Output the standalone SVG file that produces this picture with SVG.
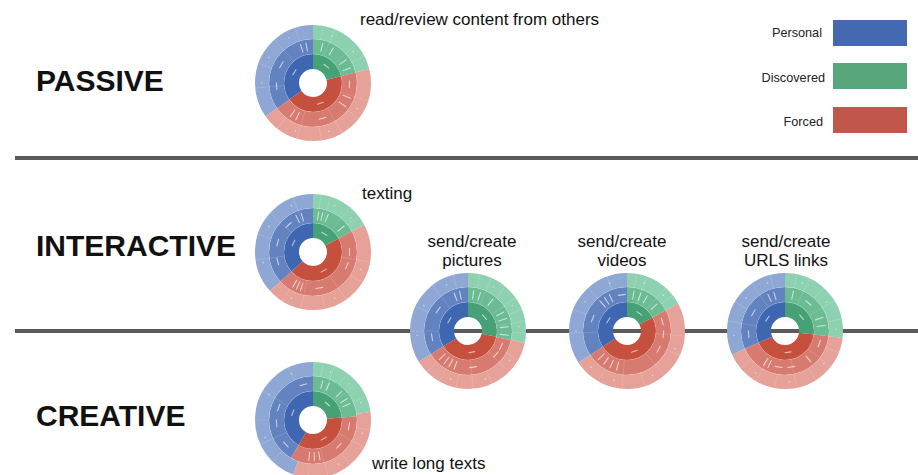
<svg xmlns="http://www.w3.org/2000/svg" xmlns:xlink="http://www.w3.org/1999/xlink" width="918" height="475" viewBox="0 0 918 475">
  <style>
    .title { font-family: "Liberation Sans", Arial, sans-serif; font-weight: bold; font-size: 30px; fill: #111; }
    .label { font-family: "Liberation Sans", Arial, sans-serif; font-size: 17px; fill: #111; }
    .legend { font-family: "Liberation Sans", Arial, sans-serif; font-size: 12.7px; fill: #222; text-anchor: end; }
    .mid { text-anchor: middle; }
    .divider { stroke: #5b5b5b; stroke-width: 4; }
    .k { fill: none; }
    .w1 { stroke-width: 15; }
    .w2 { stroke-width: 15; }
    .w3 { stroke-width: 14; }
    .b1 { stroke: #3f66b0; } .b2 { stroke: #6282c0; } .b3 { stroke: #8ea7d4; }
    .g1 { stroke: #46a276; } .g2 { stroke: #6bbb93; } .g3 { stroke: #8ed1b0; }
    .r1 { stroke: #c6503e; } .r2 { stroke: #d77a6f; } .r3 { stroke: #e6a199; }
    .seams { stroke: #fff; stroke-opacity: 0.17; stroke-width: 0.8; fill: none; }
    .marks { stroke: #fff; stroke-opacity: 0.62; stroke-width: 1.1; stroke-linecap: round; fill: #fff; fill-opacity: 0.5; }
  </style>
  <defs>
    <!-- ring arcs are circles drawn with a 360-unit dash pattern -->
    <line id="sp" x1="0" y1="-29" x2="0" y2="-58"/>
    <line id="so" x1="0" y1="-44" x2="0" y2="-58"/>
    <line id="tI" x1="-3" y1="-21.5" x2="3" y2="-21.5"/>
    <line id="rM" x1="0" y1="-32.5" x2="0" y2="-40.5"/>
    <line id="tM" x1="-3.5" y1="-36.5" x2="3.5" y2="-36.5"/>
    <circle id="dO" cx="0" cy="-51" r="0.8" stroke="none"/>
    <g id="rings">
      <circle r="29" class="seams"/>
      <circle r="44" class="seams"/>
    </g>
  </defs>

  <rect width="918" height="475" fill="#fff"/>

  <!-- section dividers -->
  <g id="dividers">
    <line class="divider" x1="15" y1="158" x2="918" y2="158"/>
    <line class="divider" x1="15" y1="331" x2="918" y2="331"/>
  </g>

  <!-- section titles -->
  <g id="titles">
    <text class="title" x="36" y="91">PASSIVE</text>
    <text class="title" x="36" y="256">INTERACTIVE</text>
    <text class="title" x="36" y="426">CREATIVE</text>
  </g>

  <!-- legend -->
  <g id="legend">
    <text class="legend" x="822" y="37">Personal</text>
    <rect x="833" y="20" width="74" height="26" fill="#4469b0"/>
    <text class="legend" x="825" y="81.5">Discovered</text>
    <rect x="833" y="63" width="74" height="26" fill="#58a77c"/>
    <text class="legend" x="823" y="125.5">Forced</text>
    <rect x="833" y="107" width="74" height="26" fill="#c0574a"/>
  </g>

  <!-- PASSIVE: read/review content from others -->
  <g id="sb-read" transform="translate(313 83)">
    <g transform="rotate(-90)">
      <circle r="21.5" class="k w1 g1" pathLength="360" stroke-dasharray="76 284"/>
      <circle r="21.5" class="k w1 r1" pathLength="360" stroke-dasharray="159 201" stroke-dashoffset="-76"/>
      <circle r="21.5" class="k w1 b1" pathLength="360" stroke-dasharray="125 235" stroke-dashoffset="-235"/>
      <circle r="36.5" class="k w2 g2" pathLength="360" stroke-dasharray="76 284"/>
      <circle r="36.5" class="k w2 r2" pathLength="360" stroke-dasharray="159 201" stroke-dashoffset="-76"/>
      <circle r="36.5" class="k w2 b2" pathLength="360" stroke-dasharray="125 235" stroke-dashoffset="-235"/>
      <circle r="51" class="k w3 g3" pathLength="360" stroke-dasharray="76 284"/>
      <circle r="51" class="k w3 r3" pathLength="360" stroke-dasharray="159 201" stroke-dashoffset="-76"/>
      <circle r="51" class="k w3 b3" pathLength="360" stroke-dasharray="125 235" stroke-dashoffset="-235"/>
    </g>
    <g class="seams">
      <use href="#rings"/>
      <use href="#sp" transform="rotate(22)"/><use href="#sp" transform="rotate(48)"/>
      <use href="#sp" transform="rotate(108)"/><use href="#sp" transform="rotate(150)"/><use href="#sp" transform="rotate(196)"/>
      <use href="#sp" transform="rotate(265)"/><use href="#sp" transform="rotate(318)"/>
      <use href="#so" transform="rotate(10)"/><use href="#so" transform="rotate(62)"/><use href="#so" transform="rotate(128)"/>
      <use href="#so" transform="rotate(172)"/><use href="#so" transform="rotate(218)"/><use href="#so" transform="rotate(290)"/>
      <use href="#so" transform="rotate(342)"/>
    </g>
    <g class="marks">
      <use href="#tI" transform="rotate(38)"/><use href="#tI" transform="rotate(160)"/><use href="#tI" transform="rotate(300)"/>
      <use href="#rM" transform="rotate(14)"/><use href="#rM" transform="rotate(30)"/><use href="#rM" transform="rotate(55)"/><use href="#rM" transform="rotate(68)"/>
      <use href="#rM" transform="rotate(112)"/><use href="#rM" transform="rotate(126)"/><use href="#rM" transform="rotate(205)"/><use href="#rM" transform="rotate(214)"/>
      <use href="#rM" transform="rotate(342)"/><use href="#rM" transform="rotate(350)"/>
      <use href="#tM" transform="rotate(92)"/><use href="#tM" transform="rotate(165)"/><use href="#tM" transform="rotate(265)"/><use href="#tM" transform="rotate(300)"/>
      <use href="#dO" transform="rotate(22)"/><use href="#dO" transform="rotate(52)"/><use href="#dO" transform="rotate(120)"/><use href="#dO" transform="rotate(162)"/>
      <use href="#dO" transform="rotate(200)"/><use href="#dO" transform="rotate(270)"/><use href="#dO" transform="rotate(300)"/><use href="#dO" transform="rotate(332)"/>
    </g>
  </g>

  <!-- INTERACTIVE: texting -->
  <g id="sb-texting" transform="translate(313 252)">
    <g transform="rotate(-90)">
      <circle r="21.5" class="k w1 g1" pathLength="360" stroke-dasharray="62 298"/>
      <circle r="21.5" class="k w1 r1" pathLength="360" stroke-dasharray="166 194" stroke-dashoffset="-62"/>
      <circle r="21.5" class="k w1 b1" pathLength="360" stroke-dasharray="132 228" stroke-dashoffset="-228"/>
      <circle r="36.5" class="k w2 g2" pathLength="360" stroke-dasharray="62 298"/>
      <circle r="36.5" class="k w2 r2" pathLength="360" stroke-dasharray="166 194" stroke-dashoffset="-62"/>
      <circle r="36.5" class="k w2 b2" pathLength="360" stroke-dasharray="132 228" stroke-dashoffset="-228"/>
      <circle r="51" class="k w3 g3" pathLength="360" stroke-dasharray="62 298"/>
      <circle r="51" class="k w3 r3" pathLength="360" stroke-dasharray="166 194" stroke-dashoffset="-62"/>
      <circle r="51" class="k w3 b3" pathLength="360" stroke-dasharray="132 228" stroke-dashoffset="-228"/>
    </g>
    <g class="seams">
      <use href="#rings"/>
      <use href="#sp" transform="rotate(18)"/><use href="#sp" transform="rotate(40)"/>
      <use href="#sp" transform="rotate(100)"/><use href="#sp" transform="rotate(145)"/><use href="#sp" transform="rotate(192)"/>
      <use href="#sp" transform="rotate(262)"/><use href="#sp" transform="rotate(312)"/><use href="#sp" transform="rotate(340)"/>
      <use href="#so" transform="rotate(8)"/><use href="#so" transform="rotate(52)"/><use href="#so" transform="rotate(122)"/>
      <use href="#so" transform="rotate(168)"/><use href="#so" transform="rotate(212)"/><use href="#so" transform="rotate(288)"/>
    </g>
    <g class="marks">
      <use href="#tI" transform="rotate(32)"/><use href="#tI" transform="rotate(150)"/><use href="#tI" transform="rotate(295)"/>
      <use href="#rM" transform="rotate(8)"/><use href="#rM" transform="rotate(14)"/><use href="#rM" transform="rotate(22)"/><use href="#rM" transform="rotate(50)"/>
      <use href="#rM" transform="rotate(198)"/><use href="#rM" transform="rotate(204)"/><use href="#rM" transform="rotate(210)"/>
      <use href="#rM" transform="rotate(335)"/><use href="#rM" transform="rotate(343)"/>
      <use href="#tM" transform="rotate(90)"/><use href="#tM" transform="rotate(112)"/><use href="#tM" transform="rotate(170)"/>
      <use href="#tM" transform="rotate(255)"/><use href="#tM" transform="rotate(285)"/><use href="#tM" transform="rotate(318)"/>
      <use href="#dO" transform="rotate(25)"/><use href="#dO" transform="rotate(48)"/><use href="#dO" transform="rotate(110)"/><use href="#dO" transform="rotate(155)"/>
      <use href="#dO" transform="rotate(205)"/><use href="#dO" transform="rotate(258)"/><use href="#dO" transform="rotate(300)"/><use href="#dO" transform="rotate(335)"/>
    </g>
  </g>

  <!-- send/create pictures -->
  <g id="sb-pictures" transform="translate(468 331)">
    <g transform="rotate(-90)">
      <circle r="21.5" class="k w1 g1" pathLength="360" stroke-dasharray="102 258"/>
      <circle r="21.5" class="k w1 r1" pathLength="360" stroke-dasharray="136 224" stroke-dashoffset="-102"/>
      <circle r="21.5" class="k w1 b1" pathLength="360" stroke-dasharray="122 238" stroke-dashoffset="-238"/>
      <circle r="36.5" class="k w2 g2" pathLength="360" stroke-dasharray="102 258"/>
      <circle r="36.5" class="k w2 r2" pathLength="360" stroke-dasharray="136 224" stroke-dashoffset="-102"/>
      <circle r="36.5" class="k w2 b2" pathLength="360" stroke-dasharray="122 238" stroke-dashoffset="-238"/>
      <circle r="51" class="k w3 g3" pathLength="360" stroke-dasharray="102 258"/>
      <circle r="51" class="k w3 r3" pathLength="360" stroke-dasharray="136 224" stroke-dashoffset="-102"/>
      <circle r="51" class="k w3 b3" pathLength="360" stroke-dasharray="122 238" stroke-dashoffset="-238"/>
    </g>
    <g class="seams">
      <use href="#rings"/>
      <use href="#sp" transform="rotate(24)"/><use href="#sp" transform="rotate(55)"/><use href="#sp" transform="rotate(80)"/>
      <use href="#sp" transform="rotate(135)"/><use href="#sp" transform="rotate(175)"/><use href="#sp" transform="rotate(210)"/>
      <use href="#sp" transform="rotate(270)"/><use href="#sp" transform="rotate(322)"/>
      <use href="#so" transform="rotate(12)"/><use href="#so" transform="rotate(40)"/><use href="#so" transform="rotate(68)"/><use href="#so" transform="rotate(92)"/>
      <use href="#so" transform="rotate(120)"/><use href="#so" transform="rotate(155)"/><use href="#so" transform="rotate(192)"/><use href="#so" transform="rotate(225)"/>
      <use href="#so" transform="rotate(295)"/><use href="#so" transform="rotate(345)"/>
    </g>
    <g class="marks">
      <use href="#tI" transform="rotate(50)"/><use href="#tI" transform="rotate(170)"/><use href="#tI" transform="rotate(300)"/>
      <use href="#rM" transform="rotate(8)"/><use href="#rM" transform="rotate(18)"/><use href="#rM" transform="rotate(38)"/><use href="#rM" transform="rotate(62)"/>
      <use href="#rM" transform="rotate(72)"/><use href="#rM" transform="rotate(84)"/><use href="#rM" transform="rotate(96)"/>
      <use href="#rM" transform="rotate(200)"/><use href="#rM" transform="rotate(208)"/><use href="#rM" transform="rotate(216)"/><use href="#rM" transform="rotate(225)"/>
      <use href="#rM" transform="rotate(340)"/><use href="#rM" transform="rotate(348)"/>
      <use href="#tM" transform="rotate(115)"/><use href="#tM" transform="rotate(130)"/><use href="#tM" transform="rotate(172)"/>
      <use href="#tM" transform="rotate(260)"/><use href="#tM" transform="rotate(305)"/>
      <use href="#dO" transform="rotate(30)"/><use href="#dO" transform="rotate(60)"/><use href="#dO" transform="rotate(85)"/><use href="#dO" transform="rotate(125)"/>
      <use href="#dO" transform="rotate(160)"/><use href="#dO" transform="rotate(200)"/><use href="#dO" transform="rotate(265)"/><use href="#dO" transform="rotate(300)"/><use href="#dO" transform="rotate(335)"/>
    </g>
  </g>

  <!-- send/create videos -->
  <g id="sb-videos" transform="translate(627 331)">
    <g transform="rotate(-90)">
      <circle r="21.5" class="k w1 g1" pathLength="360" stroke-dasharray="62 298"/>
      <circle r="21.5" class="k w1 r1" pathLength="360" stroke-dasharray="175 185" stroke-dashoffset="-62"/>
      <circle r="21.5" class="k w1 b1" pathLength="360" stroke-dasharray="123 237" stroke-dashoffset="-237"/>
      <circle r="36.5" class="k w2 g2" pathLength="360" stroke-dasharray="62 298"/>
      <circle r="36.5" class="k w2 r2" pathLength="360" stroke-dasharray="175 185" stroke-dashoffset="-62"/>
      <circle r="36.5" class="k w2 b2" pathLength="360" stroke-dasharray="123 237" stroke-dashoffset="-237"/>
      <circle r="51" class="k w3 g3" pathLength="360" stroke-dasharray="62 298"/>
      <circle r="51" class="k w3 r3" pathLength="360" stroke-dasharray="175 185" stroke-dashoffset="-62"/>
      <circle r="51" class="k w3 b3" pathLength="360" stroke-dasharray="123 237" stroke-dashoffset="-237"/>
    </g>
    <g class="seams">
      <use href="#rings"/>
      <use href="#sp" transform="rotate(20)"/><use href="#sp" transform="rotate(42)"/>
      <use href="#sp" transform="rotate(95)"/><use href="#sp" transform="rotate(140)"/><use href="#sp" transform="rotate(185)"/>
      <use href="#sp" transform="rotate(268)"/><use href="#sp" transform="rotate(318)"/>
      <use href="#so" transform="rotate(10)"/><use href="#so" transform="rotate(52)"/><use href="#so" transform="rotate(115)"/>
      <use href="#so" transform="rotate(162)"/><use href="#so" transform="rotate(210)"/><use href="#so" transform="rotate(292)"/><use href="#so" transform="rotate(340)"/>
    </g>
    <g class="marks">
      <use href="#tI" transform="rotate(35)"/><use href="#tI" transform="rotate(160)"/><use href="#tI" transform="rotate(300)"/>
      <use href="#rM" transform="rotate(10)"/><use href="#rM" transform="rotate(20)"/><use href="#rM" transform="rotate(30)"/><use href="#rM" transform="rotate(48)"/>
      <use href="#rM" transform="rotate(195)"/><use href="#rM" transform="rotate(205)"/><use href="#rM" transform="rotate(215)"/><use href="#rM" transform="rotate(225)"/>
      <use href="#rM" transform="rotate(318)"/><use href="#rM" transform="rotate(326)"/><use href="#rM" transform="rotate(334)"/>
      <use href="#tM" transform="rotate(75)"/><use href="#tM" transform="rotate(95)"/><use href="#tM" transform="rotate(120)"/><use href="#tM" transform="rotate(352)"/><use href="#tM" transform="rotate(290)"/>
      <use href="#dO" transform="rotate(20)"/><use href="#dO" transform="rotate(45)"/><use href="#dO" transform="rotate(110)"/><use href="#dO" transform="rotate(150)"/>
      <use href="#dO" transform="rotate(195)"/><use href="#dO" transform="rotate(225)"/><use href="#dO" transform="rotate(270)"/><use href="#dO" transform="rotate(305)"/><use href="#dO" transform="rotate(340)"/>
    </g>
  </g>

  <!-- send/create URLS links -->
  <g id="sb-links" transform="translate(785 331)">
    <g transform="rotate(-90)">
      <circle r="21.5" class="k w1 g1" pathLength="360" stroke-dasharray="97 263"/>
      <circle r="21.5" class="k w1 r1" pathLength="360" stroke-dasharray="149 211" stroke-dashoffset="-97"/>
      <circle r="21.5" class="k w1 b1" pathLength="360" stroke-dasharray="114 246" stroke-dashoffset="-246"/>
      <circle r="36.5" class="k w2 g2" pathLength="360" stroke-dasharray="97 263"/>
      <circle r="36.5" class="k w2 r2" pathLength="360" stroke-dasharray="149 211" stroke-dashoffset="-97"/>
      <circle r="36.5" class="k w2 b2" pathLength="360" stroke-dasharray="114 246" stroke-dashoffset="-246"/>
      <circle r="51" class="k w3 g3" pathLength="360" stroke-dasharray="97 263"/>
      <circle r="51" class="k w3 r3" pathLength="360" stroke-dasharray="149 211" stroke-dashoffset="-97"/>
      <circle r="51" class="k w3 b3" pathLength="360" stroke-dasharray="114 246" stroke-dashoffset="-246"/>
    </g>
    <g class="seams">
      <use href="#rings"/>
      <use href="#sp" transform="rotate(25)"/><use href="#sp" transform="rotate(58)"/>
      <use href="#sp" transform="rotate(128)"/><use href="#sp" transform="rotate(168)"/><use href="#sp" transform="rotate(210)"/>
      <use href="#sp" transform="rotate(280)"/><use href="#sp" transform="rotate(325)"/>
      <use href="#so" transform="rotate(12)"/><use href="#so" transform="rotate(42)"/><use href="#so" transform="rotate(78)"/><use href="#so" transform="rotate(112)"/>
      <use href="#so" transform="rotate(148)"/><use href="#so" transform="rotate(190)"/><use href="#so" transform="rotate(230)"/><use href="#so" transform="rotate(300)"/><use href="#so" transform="rotate(345)"/>
    </g>
    <g class="marks">
      <use href="#tI" transform="rotate(50)"/><use href="#tI" transform="rotate(172)"/><use href="#tI" transform="rotate(305)"/>
      <use href="#rM" transform="rotate(12)"/><use href="#rM" transform="rotate(70)"/><use href="#rM" transform="rotate(82)"/>
      <use href="#rM" transform="rotate(140)"/><use href="#rM" transform="rotate(205)"/><use href="#rM" transform="rotate(212)"/>
      <use href="#rM" transform="rotate(335)"/><use href="#rM" transform="rotate(344)"/>
      <use href="#tM" transform="rotate(40)"/><use href="#tM" transform="rotate(110)"/><use href="#tM" transform="rotate(170)"/>
      <use href="#tM" transform="rotate(190)"/><use href="#tM" transform="rotate(265)"/><use href="#tM" transform="rotate(300)"/>
      <use href="#dO" transform="rotate(20)"/><use href="#dO" transform="rotate(55)"/><use href="#dO" transform="rotate(88)"/><use href="#dO" transform="rotate(130)"/>
      <use href="#dO" transform="rotate(175)"/><use href="#dO" transform="rotate(215)"/><use href="#dO" transform="rotate(265)"/><use href="#dO" transform="rotate(310)"/><use href="#dO" transform="rotate(340)"/>
    </g>
  </g>

  <!-- CREATIVE: write long texts -->
  <g id="sb-write" transform="translate(313 420)">
    <g transform="rotate(-90)">
      <circle r="21.5" class="k w1 g1" pathLength="360" stroke-dasharray="85 275"/>
      <circle r="21.5" class="k w1 r1" pathLength="360" stroke-dasharray="125 235" stroke-dashoffset="-85"/>
      <circle r="21.5" class="k w1 b1" pathLength="360" stroke-dasharray="150 210" stroke-dashoffset="-210"/>
      <circle r="36.5" class="k w2 g2" pathLength="360" stroke-dasharray="85 275"/>
      <circle r="36.5" class="k w2 r2" pathLength="360" stroke-dasharray="125 235" stroke-dashoffset="-85"/>
      <circle r="36.5" class="k w2 b2" pathLength="360" stroke-dasharray="150 210" stroke-dashoffset="-210"/>
      <circle r="51" class="k w3 g3" pathLength="360" stroke-dasharray="82 278"/>
      <circle r="51" class="k w3 r3" pathLength="360" stroke-dasharray="118 242" stroke-dashoffset="-82"/>
      <circle r="51" class="k w3 b3" pathLength="360" stroke-dasharray="160 200" stroke-dashoffset="-200"/>
    </g>
    <g class="seams">
      <use href="#rings"/>
      <use href="#sp" transform="rotate(22)"/><use href="#sp" transform="rotate(50)"/>
      <use href="#sp" transform="rotate(118)"/><use href="#sp" transform="rotate(165)"/>
      <use href="#sp" transform="rotate(245)"/><use href="#sp" transform="rotate(300)"/>
      <use href="#so" transform="rotate(10)"/><use href="#so" transform="rotate(36)"/><use href="#so" transform="rotate(66)"/>
      <use href="#so" transform="rotate(100)"/><use href="#so" transform="rotate(140)"/><use href="#so" transform="rotate(185)"/>
      <use href="#so" transform="rotate(225)"/><use href="#so" transform="rotate(270)"/><use href="#so" transform="rotate(335)"/>
    </g>
    <g class="marks">
      <use href="#tI" transform="rotate(42)"/><use href="#tI" transform="rotate(150)"/><use href="#tI" transform="rotate(290)"/>
      <use href="#rM" transform="rotate(14)"/><use href="#rM" transform="rotate(24)"/><use href="#rM" transform="rotate(45)"/><use href="#rM" transform="rotate(58)"/>
      <use href="#rM" transform="rotate(66)"/><use href="#rM" transform="rotate(170)"/><use href="#rM" transform="rotate(178)"/><use href="#rM" transform="rotate(186)"/>
      <use href="#tM" transform="rotate(100)"/><use href="#tM" transform="rotate(135)"/><use href="#tM" transform="rotate(265)"/>
      <use href="#tM" transform="rotate(290)"/><use href="#tM" transform="rotate(345)"/><use href="#tM" transform="rotate(228)"/>
      <use href="#dO" transform="rotate(20)"/><use href="#dO" transform="rotate(45)"/><use href="#dO" transform="rotate(70)"/><use href="#dO" transform="rotate(105)"/>
      <use href="#dO" transform="rotate(150)"/><use href="#dO" transform="rotate(250)"/><use href="#dO" transform="rotate(300)"/><use href="#dO" transform="rotate(335)"/>
    </g>
  </g>

  <!-- chart captions -->
  <g id="captions">
    <text class="label" x="360" y="25">read/review content from others</text>
    <text class="label" x="362" y="199">texting</text>
    <text class="label mid" x="472" y="247">send/create</text>
    <text class="label mid" x="472" y="266">pictures</text>
    <text class="label mid" x="622" y="247">send/create</text>
    <text class="label mid" x="622" y="266">videos</text>
    <text class="label mid" x="786" y="247">send/create</text>
    <text class="label mid" x="786" y="266">URLS links</text>
    <text class="label" x="372" y="469">write long texts</text>
  </g>
</svg>
